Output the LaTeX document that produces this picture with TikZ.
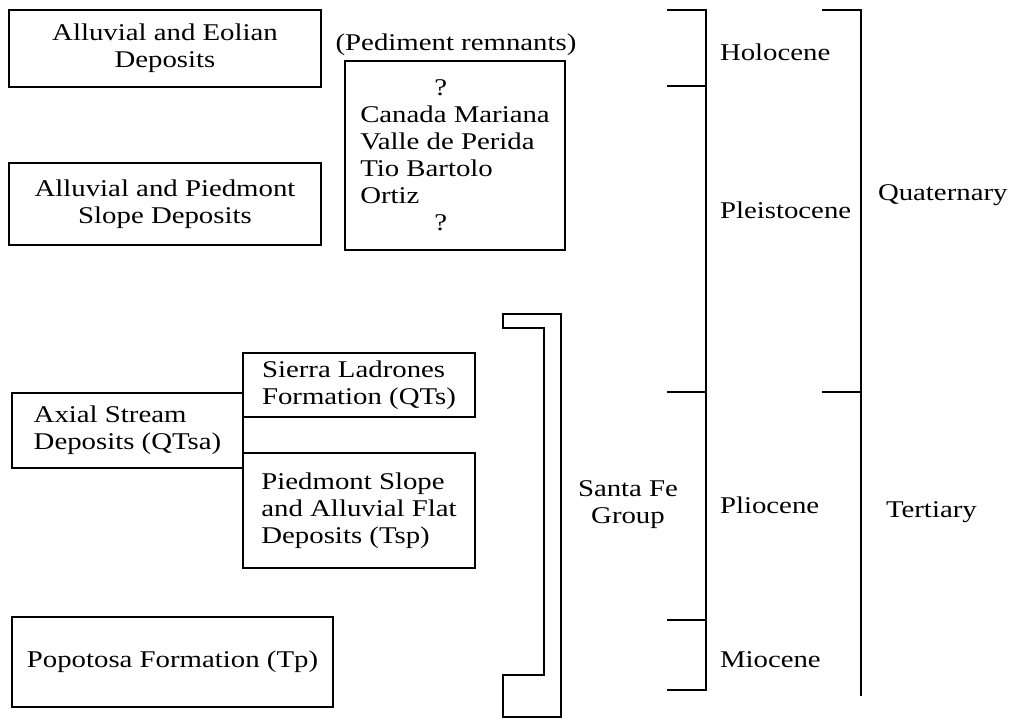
\documentclass[tikz,border=0pt]{standalone}
\usepackage{fontspec}
\setmainfont{Liberation Serif}[FakeStretch=1.2]

\begin{document}
\begin{tikzpicture}[x=0.5pt,y=-0.5pt,
        font=\fontsize{12}{13.5}\selectfont,
        line width=1pt,
        unidad/.style={draw, inner sep=0pt, align=center},
        unidadizq/.style={draw, inner sep=0pt, align=left},
        era/.style={anchor=west, inner sep=0pt}]
        \useasboundingbox (0,0) rectangle (1013,721);

        % ~~~~ Depósitos cuaternarios ~~~~ %
        \node[unidad, minimum width=156pt, minimum height=38.5pt] (eolico) at (165,48.5)
            {Alluvial and Eolian\\Deposits};
        \node[unidad, minimum width=156pt, minimum height=41pt] (pedemonte) at (165,204)
            {Alluvial and Piedmont\\Slope Deposits};

        % ~~~~ Pedimentos ~~~~ %
        \node[inner sep=0pt] (pedtitulo) at (456,45) {(Pediment remnants)};
        \node[unidadizq, minimum width=110pt, minimum height=94.5pt] (pedimentos) at (455,155.5)
            {\hspace*{37pt}?\\Canada Mariana\\Valle de Perida\\Tio Bartolo\\Ortiz\\\hspace*{37pt}?};

        % ~~~~ Grupo Santa Fe ~~~~ %
        \node[unidadizq, minimum width=116pt, minimum height=32pt] (sierra) at (359,385)
            {Sierra Ladrones\\Formation (QTs)};
        \node[unidadizq, minimum width=115.5pt, minimum height=37.5pt] (axial) at (127.5,430.5)
            {Axial Stream\\Deposits (QTsa)};
        \node[unidadizq, minimum width=116pt, minimum height=57.5pt] (llanura) at (359,510.5)
            {Piedmont Slope\\and Alluvial Flat\\Deposits (Tsp)};
        \node[unidad, minimum width=160.5pt, minimum height=45pt] (popotosa) at (172.5,662)
            {Popotosa Formation (Tp)};

        \draw (503,314) -- (561,314) -- (561,717) -- (503,717) -- (503,675)
            -- (544,675) -- (544,328) -- (503,328) -- cycle;
        \node[align=center, inner sep=0pt] (santafe) at (628,505) {Santa Fe\\Group};

        % ~~~~ Épocas ~~~~ %
        \draw (667,10) -- (706,10) -- (706,690) -- (667,690);
        \foreach \y in {86,392,620}
            \draw (667,\y) -- (706,\y);
        \node[era] (holoceno) at (719,52) {Holocene};
        \node[era] (pleistoceno) at (719,210) {Pleistocene};
        \node[era] (plioceno) at (719,505) {Pliocene};
        \node[era] (mioceno) at (719,660) {Miocene};

        % ~~~~ Periodos ~~~~ %
        \draw (822,10) -- (861,10) -- (861,696);
        \draw (822,392) -- (861,392);
        \node[era] (cuaternario) at (877,195) {Quaternary};
        \node[era] (terciario) at (885,512) {Tertiary};
    \end{tikzpicture}
\end{document}
